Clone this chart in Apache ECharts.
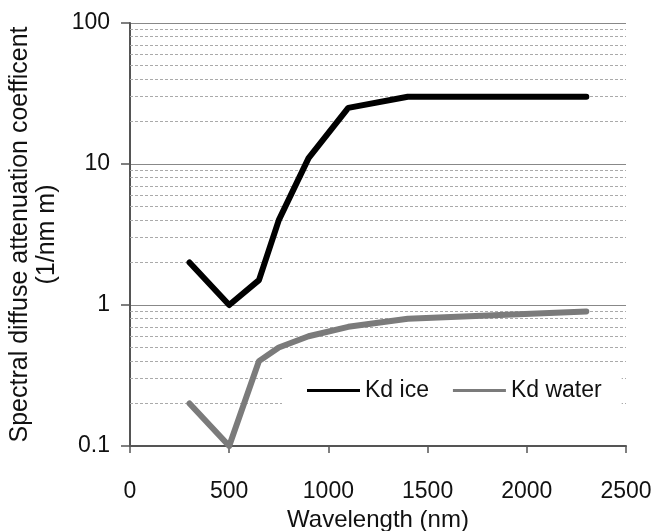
<!DOCTYPE html>
<html>
<head>
<meta charset="utf-8">
<script src="https://cdn.jsdelivr.net/npm/echarts@6/dist/echarts.min.js"></script>
<style>
html,body{margin:0;padding:0;background:#fff;}
#chart{width:657px;height:531px;}
</style>
</head>
<body>
<div id="chart"></div>
<script>
var wavelengths = [300, 500, 650, 750, 900, 1100, 1400, 2300];
var kdIce = [2, 1, 1.5, 4, 11, 25, 30, 30];
var kdWater = [0.2, 0.1, 0.4, 0.5, 0.6, 0.7, 0.8, 0.9];
var minorGridValues = [0.2,0.3,0.4,0.5,0.6,0.7,0.8,0.9, 2,3,4,5,6,7,8,9, 20,30,40,50,60,70,80,90];
var seriesNames = ['Kd ice', 'Kd water'];

function pairs(xs, ys){ return xs.map(function(x,i){ return [x, ys[i]]; }); }

var font = 'Liberation Sans, Arial, sans-serif';
var chart = echarts.init(document.getElementById('chart'));
chart.setOption({
  animation: false,
  backgroundColor: '#fff',
  grid: { left: 130, right: 31, top: 23, bottom: 85, containLabel: false, outerBoundsMode: 'none' },
  legend: {
    data: seriesNames,
    left: 282, top: 366,
    padding: [13, 20, 13, 25],
    backgroundColor: '#fff',
    icon: 'rect', itemWidth: 53, itemHeight: 3, itemGap: 24,
    textStyle: { fontFamily: font, fontSize: 23, color: '#111' }
  },
  xAxis: {
    type: 'value', min: 0, max: 2500, interval: 500,
    name: 'Wavelength (nm)', nameLocation: 'middle', nameGap: 62,
    nameTextStyle: { fontFamily: font, fontSize: 24, color: '#111' },
    axisLine: { show: true, onZero: false, lineStyle: { color: '#555', width: 2 } },
    axisTick: { show: true, length: 7, lineStyle: { color: '#555', width: 1.5 } },
    axisLabel: { fontFamily: font, fontSize: 23, color: '#111', margin: 34,
      formatter: function(v){ return String(v); } },
    splitLine: { show: false }
  },
  yAxis: {
    type: 'log', logBase: 10, min: 0.1, max: 100,
    name: 'Spectral diffuse attenuation coefficent\n(1/nm m)',
    nameLocation: 'middle', nameGap: 69, nameRotate: 90,
    nameTextStyle: { fontFamily: font, fontSize: 25, color: '#111', lineHeight: 27, align: 'center' },
    axisLine: { show: true, onZero: false, lineStyle: { color: '#555', width: 2 } },
    axisTick: { show: true, length: 9, lineStyle: { color: '#555', width: 1.5 } },
    axisLabel: { fontFamily: font, fontSize: 23, color: '#111', margin: 20 },
    splitLine: { show: true, lineStyle: { color: '#888', width: 1.2 } }
  },
  series: [
    {
      name: 'minor', type: 'line', data: [], z: 1, silent: true,
      markLine: {
        silent: true, symbol: 'none', animation: false, z: 1,
        label: { show: false },
        lineStyle: { type: [3, 2], color: '#aaa', width: 1 },
        data: minorGridValues.map(function(v){ return { yAxis: v }; })
      }
    },
    {
      name: seriesNames[0], type: 'line', data: pairs(wavelengths, kdIce), z: 3,
      showSymbol: false, symbol: 'none', color: '#000',
      lineStyle: { width: 6, color: '#000', cap: 'round', join: 'round' }
    },
    {
      name: seriesNames[1], type: 'line', data: pairs(wavelengths, kdWater), z: 3,
      showSymbol: false, symbol: 'none', color: '#7b7b7b',
      lineStyle: { width: 6, color: '#7b7b7b', cap: 'round', join: 'round' }
    }
  ]
});
</script>
</body>
</html>
